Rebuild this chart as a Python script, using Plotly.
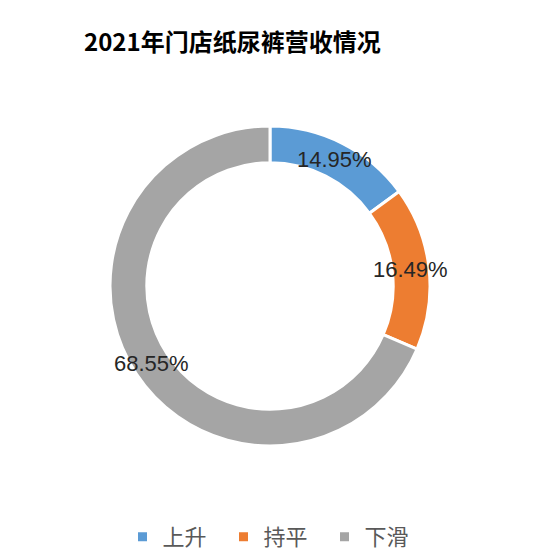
import math

import plotly.graph_objects as go

# data
categories = ["上升", "持平", "下滑"]
shares = [14.95, 16.49, 68.55]
colors = ["#5B9BD5", "#ED7D31", "#A5A5A5"]
title_text = "2021年门店纸尿裤营收情况"

# page body has an 8px margin, so shift everything up/left by it
off = 8
W, H = 549, 555
# ring geometry in window pixels
cx, cy, R = 270 - off, 286 - off, 160
hole = 0.77

fig = go.Figure()
fig.add_trace(
    go.Pie(
        labels=categories,
        values=shares,
        sort=False,
        direction="clockwise",
        rotation=0,
        hole=hole,
        textinfo="none",
        marker=dict(colors=colors, line=dict(color="white", width=3)),
        domain=dict(x=[(cx - R) / W, (cx + R) / W], y=[1 - (cy + R) / H, 1 - (cy - R) / H]),
        hoverinfo="label+percent",
    )
)

# percent labels in the middle of the ring, horizontal
total = sum(shares)
r_mid = R * (1 + hole) / 2
start = 0.0
for v in shares:
    ang = (start + v / 2) / total * 2 * math.pi
    start += v
    px_x = cx + r_mid * math.sin(ang)
    px_y = cy - r_mid * math.cos(ang)
    fig.add_annotation(
        x=px_x / W,
        y=1 - px_y / H,
        xref="paper",
        yref="paper",
        xanchor="center",
        yanchor="middle",
        text=f"{v:.2f}%",
        showarrow=False,
        font=dict(family="Liberation Sans", size=22, color="#262626"),
    )

fig.update_layout(
    width=W,
    height=H,
    margin=dict(l=0, r=0, t=0, b=0),
    paper_bgcolor="white",
    plot_bgcolor="white",
    title=dict(
        text="<b>" + title_text + "</b>",
        x=(84 - off) / W,
        xanchor="left",
        xref="container",
        y=1 - (43 - off) / H,
        yanchor="middle",
        yref="container",
        font=dict(family="Noto Sans CJK SC", size=24, color="#000000"),
    ),
    showlegend=True,
    legend=dict(
        orientation="h",
        x=(274 - off) / W,
        xanchor="center",
        y=1 - (537 - off) / H,
        yanchor="middle",
        font=dict(family="Noto Sans CJK SC", size=22, color="#595959"),
        entrywidth=56,
        traceorder="normal",
    ),
)

fig.write_html("out.html")
